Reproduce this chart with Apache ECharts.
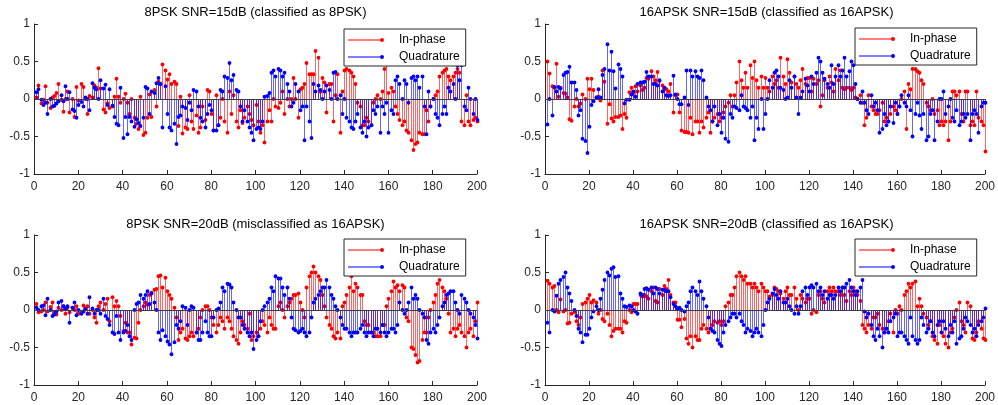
<!DOCTYPE html>
<html><head><meta charset="utf-8">
<script src="https://cdn.jsdelivr.net/npm/echarts@6/dist/echarts.min.js"></script>
<style>html,body{margin:0;padding:0;background:#fff}#c{width:998px;height:405px}</style>
</head><body><div id="c"></div>
<script>
const titles = [
  '8PSK SNR=15dB (classified as 8PSK)',
  '16APSK SNR=15dB (classified as 16APSK)',
  '8PSK SNR=20dB (misclassified as 16APSK)',
  '16APSK SNR=20dB (classified as 16APSK)'
];
const seriesNames = ['In-phase', 'Quadrature'];
const xTicks = {min: 0, max: 200, step: 20};
const yTicks = {min: -1, max: 1, step: 0.5};
const sampleIndex = Array.from({length: 200}, (_, k) => k + 1);

// 8PSK SNR=15dB
const tlI = [0.02,0.18,-0.06,-0.01,0.17,-0.05,-0.12,0.02,0.04,0.08,
 0.2,-0.01,-0.17,0.0,0.1,-0.18,0.0,-0.24,0.16,-0.02,
 0.2,0.16,0.0,-0.2,0.04,0.02,0.18,0.15,0.41,0.14,
 -0.14,-0.18,-0.06,-0.12,-0.1,0.03,0.27,0.03,-0.05,0.0,
 0.07,-0.05,-0.2,0.0,-0.25,-0.33,-0.4,0.03,-0.48,-0.45,
 -0.25,0.06,-0.24,0.12,-0.1,0.23,0.2,0.46,0.38,0.26,
 0.33,0.2,0.23,0.2,-0.36,0.03,-0.46,-0.38,-0.4,0.05,
 -0.3,-0.4,-0.22,-0.45,-0.38,-0.1,-0.28,0.12,0.1,-0.2,
 -0.42,0.05,-0.35,-0.25,0.0,-0.3,-0.45,0.1,-0.2,0.05,
 -0.3,-0.38,-0.15,-0.32,-0.25,-0.1,-0.2,-0.28,-0.35,-0.08,
 -0.3,-0.45,-0.35,-0.58,-0.3,-0.15,-0.3,0.0,-0.1,-0.12,
 -0.05,0.1,-0.2,0.0,-0.1,0.0,0.28,0.0,-0.25,0.13,
 0.15,0.2,0.48,0.33,0.33,0.33,0.64,0.55,0.1,0.28,
 0.22,-0.18,0.2,0.2,-0.3,0.05,0.33,-0.45,0.1,0.38,
 0.4,0.38,0.35,0.3,0.2,-0.05,-0.1,-0.35,-0.35,-0.25,
 -0.3,-0.35,-0.05,0.0,0.05,0.0,0.1,0.4,0.46,0.08,
 0.15,0.1,-0.1,-0.2,-0.28,-0.35,-0.3,-0.42,-0.45,-0.55,
 -0.68,-0.6,-0.58,-0.45,-0.47,-0.47,-0.15,-0.3,-0.1,0.0,
 0.05,0.1,0.3,0.35,0.38,0.4,0.3,0.25,0.3,0.35,
 0.4,0.35,-0.3,-0.35,0.05,-0.3,-0.35,-0.28,-0.25,-0.3];
const tlQ = [0.09,0.13,-0.01,-0.08,-0.05,-0.2,0.0,-0.1,-0.09,-0.06,
 -0.03,0.05,-0.03,0.17,0.0,0.09,-0.14,-0.16,-0.25,-0.08,
 -0.04,-0.1,0.02,0.0,-0.15,0.21,0.15,0.13,0.0,0.25,
 0.14,0.19,-0.08,0.13,-0.09,-0.24,-0.33,-0.35,0.15,-0.52,
 -0.24,-0.47,-0.24,-0.3,-0.37,-0.27,-0.32,-0.36,-0.25,0.16,
 0.14,-0.2,0.1,0.08,0.21,0.28,0.2,-0.38,0.17,-0.2,
 -0.38,-0.42,-0.33,-0.6,-0.24,-0.22,-0.1,-0.12,-0.28,-0.05,
 -0.15,0.12,0.1,-0.1,-0.25,-0.3,-0.38,-0.2,-0.08,-0.15,
 -0.42,-0.42,-0.35,0.12,0.1,0.3,0.28,0.48,0.25,0.32,
 0.12,0.1,-0.1,-0.3,-0.15,-0.3,-0.38,-0.45,-0.55,-0.4,
 -0.38,-0.4,-0.3,0.03,0.04,0.08,0.35,0.38,0.3,0.4,
 0.38,0.3,0.35,0.2,0.1,-0.1,-0.05,0.2,0.1,-0.15,
 -0.1,-0.55,-0.1,-0.3,-0.52,0.2,0.1,0.18,0.12,0.0,
 0.1,0.18,0.12,0.0,0.35,0.36,0.0,0.05,-0.2,0.0,
 -0.25,-0.3,-0.38,-0.4,-0.3,-0.2,-0.38,-0.45,-0.3,-0.5,
 -0.38,-0.35,-0.15,-0.2,-0.1,-0.45,-0.1,-0.2,-0.05,-0.45,
 -0.15,-0.2,0.25,0.3,0.2,0.0,0.25,0.2,-0.05,0.28,
 0.3,0.25,0.3,0.15,0.3,-0.1,-0.47,0.1,-0.1,0.0,
 -0.2,-0.25,-0.35,-0.2,-0.1,-0.2,0.15,0.1,0.2,0.0,
 0.45,0.25,0.45,-0.1,-0.15,0.15,0.0,-0.2,0.0,-0.28];

// 16APSK SNR=15dB
const trI = [0.5,0.34,0.17,0.15,0.47,0.03,0.15,0.08,0.07,0.02,
 -0.27,-0.29,-0.1,0.0,-0.1,-0.06,0.06,0.0,0.27,0.13,
 0.27,0.12,0.02,0.03,-0.02,0.38,0.23,-0.33,-0.07,-0.26,
 -0.3,-0.24,-0.24,-0.22,-0.4,-0.2,-0.25,0.09,0.15,0.08,
 0.17,0.1,0.18,0.12,0.15,0.28,0.27,0.37,0.3,0.25,
 0.36,0.24,0.18,0.13,0.13,0.1,0.2,-0.18,0.05,0.06,
 -0.18,-0.42,-0.44,-0.44,-0.45,-0.25,-0.47,-0.3,-0.3,-0.45,
 -0.3,-0.38,-0.25,-0.18,-0.45,-0.3,-0.25,-0.2,-0.3,-0.25,
 -0.18,-0.1,-0.05,0.05,-0.1,0.05,0.22,0.5,0.25,0.15,
 0.35,0.15,0.45,0.28,0.5,0.25,0.15,0.3,0.15,0.28,
 0.15,0.1,0.3,0.2,0.25,0.15,0.55,0.3,0.2,0.53,
 0.35,0.22,0.3,0.2,0.15,0.25,0.4,0.2,0.28,0.28,
 0.1,0.27,0.2,0.25,-0.1,0.05,0.25,0.15,0.3,0.22,
 0.1,0.4,0.25,0.38,0.15,0.13,0.15,0.15,0.12,0.15,
 0.02,0.0,0.05,-0.05,-0.35,-0.25,0.05,-0.1,-0.15,-0.2,
 -0.2,-0.15,-0.05,-0.3,-0.25,-0.3,-0.2,-0.1,-0.15,-0.2,
 -0.1,0.0,0.1,-0.4,0.2,0.13,0.4,0.4,0.37,0.35,
 0.25,0.2,-0.05,-0.1,-0.15,0.0,-0.2,-0.15,-0.35,-0.3,
 -0.35,-0.3,-0.55,-0.3,0.1,0.1,0.05,0.1,-0.2,-0.3,
 0.1,0.1,-0.35,-0.3,-0.35,0.1,-0.25,-0.3,-0.35,-0.7];
const trQ = [-0.34,0.0,-0.22,0.16,0.1,0.16,0.14,0.32,0.35,0.36,
 0.43,0.22,0.22,0.12,-0.22,-0.15,-0.53,-0.56,-0.72,-0.37,
 -0.08,-0.03,0.02,0.13,0.02,0.32,0.4,0.73,0.38,0.63,
 0.37,0.14,0.46,0.4,0.3,-0.06,-0.01,-0.01,0.06,0.1,
 0.03,0.2,0.22,0.22,0.23,0.36,0.3,0.3,0.2,0.2,
 0.18,0.25,0.1,0.15,0.05,0.04,0.05,0.31,0.06,0.0,
 -0.07,-0.07,0.02,0.38,-0.08,0.38,0.3,0.37,0.3,0.28,
 0.38,0.25,0.02,-0.1,-0.15,-0.3,-0.1,-0.35,-0.2,-0.45,
 -0.25,-0.53,-0.57,-0.2,-0.25,-0.1,-0.12,-0.15,0.05,-0.1,
 -0.12,-0.15,-0.25,-0.1,-0.55,-0.25,-0.4,0.0,-0.4,-0.2,
 0.0,0.25,0.15,0.35,0.38,0.3,0.15,0.12,0.0,0.02,
 0.25,0.15,0.3,0.02,-0.2,0.02,0.1,0.27,0.18,0.1,
 0.3,0.2,0.35,0.55,0.5,0.35,0.27,0.2,0.15,0.45,
 0.2,0.3,0.45,0.3,0.38,0.55,0.3,0.37,0.5,0.45,
 0.2,0.0,-0.05,0.1,-0.05,-0.15,-0.2,0.05,-0.1,-0.05,
 -0.15,-0.45,-0.4,-0.2,-0.35,-0.3,-0.1,-0.32,-0.05,-0.2,
 -0.1,0.05,-0.05,-0.1,0.05,-0.15,-0.5,-0.2,-0.05,-0.22,
 -0.4,-0.2,-0.55,-0.5,-0.2,-0.15,-0.55,-0.3,0.0,0.0,
 0.1,-0.2,-0.1,0.0,-0.25,-0.3,-0.15,-0.35,-0.3,-0.2,
 -0.25,-0.2,-0.55,-0.2,-0.15,-0.2,-0.45,-0.1,-0.05,-0.05];

// 8PSK SNR=20dB
const blI = [0.08,-0.03,-0.02,0.0,0.1,-0.02,0.04,0.1,-0.03,-0.06,
 0.03,0.0,0.05,-0.05,0.03,-0.03,0.03,0.0,0.05,-0.05,
 -0.03,0.06,0.02,0.05,-0.05,0.0,-0.1,-0.17,0.05,0.1,
 0.0,0.08,0.15,-0.15,0.17,0.05,0.12,0.05,-0.08,-0.28,
 -0.17,-0.3,-0.3,-0.46,-0.37,-0.38,-0.17,0.0,0.05,0.1,
 0.07,0.2,0.23,0.27,0.28,0.45,0.46,0.3,0.43,0.25,
 0.2,0.15,0.03,-0.1,-0.4,-0.3,-0.25,-0.38,-0.4,-0.35,
 -0.3,-0.35,-0.3,-0.25,-0.1,0.0,0.05,0.05,0.0,-0.1,
 -0.2,-0.3,-0.2,-0.1,-0.15,-0.25,-0.1,-0.15,-0.25,-0.35,
 -0.4,-0.45,-0.3,-0.15,-0.2,-0.25,-0.05,-0.4,-0.35,-0.3,
 -0.35,-0.25,-0.15,-0.2,-0.3,-0.1,-0.2,-0.25,-0.25,0.05,
 0.1,0.0,-0.1,0.05,0.1,0.15,0.2,0.2,0.22,0.1,
 0.0,-0.1,0.3,0.45,0.5,0.58,0.5,0.45,0.4,0.2,
 0.05,-0.1,-0.2,-0.25,-0.35,-0.38,-0.3,-0.38,0.05,0.1,
 0.2,0.3,0.45,0.25,0.35,0.3,0.2,0.2,-0.15,-0.2,
 -0.2,-0.3,-0.3,-0.35,-0.35,-0.35,-0.2,-0.2,0.05,0.15,
 0.25,0.38,0.3,0.33,0.25,0.33,0.3,-0.1,-0.15,-0.5,
 -0.52,-0.6,-0.7,-0.68,-0.4,-0.3,-0.3,-0.1,0.0,0.1,
 0.2,0.35,0.4,0.3,0.25,0.15,-0.05,-0.3,-0.25,-0.35,
 -0.25,-0.2,-0.3,-0.35,-0.5,-0.3,-0.25,-0.35,-0.15,0.1];
const blQ = [0.03,0.0,0.05,0.06,-0.07,0.15,0.0,-0.08,-0.06,-0.02,
 0.1,0.12,0.05,0.02,0.05,-0.17,0.03,0.1,-0.07,0.0,
 -0.05,-0.02,0.01,-0.05,0.17,0.02,-0.05,0.0,0.0,-0.05,
 0.15,-0.08,-0.12,-0.2,-0.3,-0.32,-0.08,-0.3,-0.4,-0.3,
 -0.28,-0.2,-0.35,-0.4,0.0,0.08,0.1,0.2,0.15,0.2,
 0.25,0.08,0.22,0.1,0.0,-0.3,-0.4,-0.27,-0.35,-0.42,
 -0.46,-0.59,-0.43,-0.2,-0.25,-0.15,0.05,0.03,-0.2,0.0,
 0.05,0.03,-0.3,-0.4,-0.4,-0.3,-0.15,-0.3,-0.35,-0.35,
 -0.1,0.0,0.02,0.1,0.3,0.25,0.35,0.34,0.3,0.1,
 0.0,-0.1,-0.1,-0.2,-0.25,-0.3,-0.35,-0.3,-0.52,-0.4,
 -0.35,-0.15,0.0,0.05,0.1,0.15,0.3,0.25,0.45,0.42,
 0.42,0.3,0.2,0.3,0.15,-0.1,-0.25,-0.27,-0.3,-0.28,
 -0.25,-0.3,-0.35,-0.3,-0.1,0.1,0.15,0.2,0.25,0.3,
 0.3,0.4,0.3,0.2,0.15,0.05,0.0,-0.1,-0.2,-0.25,
 -0.25,-0.3,-0.35,-0.3,-0.3,-0.3,-0.25,-0.2,-0.3,-0.35,
 -0.3,-0.3,-0.35,-0.25,-0.25,-0.3,-0.2,-0.3,-0.35,-0.3,
 -0.25,-0.25,-0.3,-0.2,0.1,0.0,-0.05,0.0,0.1,0.3,
 0.15,0.2,0.15,0.0,-0.05,-0.1,-0.4,-0.45,-0.3,-0.25,
 -0.3,-0.2,-0.1,0.05,0.1,0.2,0.22,0.25,0.25,0.1,
 0.0,-0.05,0.2,0.15,0.1,0.0,-0.05,-0.1,-0.2,-0.38];

// 16APSK SNR=20dB
const brI = [0.39,0.35,0.3,0.32,0.0,-0.03,0.14,-0.02,0.0,-0.18,
 -0.17,-0.05,-0.03,-0.15,-0.2,-0.1,0.08,0.1,0.15,0.2,
 0.1,0.13,0.1,-0.05,0.0,-0.12,-0.15,-0.05,-0.2,-0.35,
 -0.28,-0.25,-0.25,-0.25,-0.3,-0.15,-0.17,0.0,-0.03,0.08,
 0.08,0.08,0.2,0.18,0.2,0.18,0.15,0.25,0.3,0.12,
 0.1,0.28,0.2,0.32,0.28,0.4,0.2,0.1,0.1,-0.13,
 -0.13,-0.23,-0.12,-0.38,-0.45,-0.35,-0.5,-0.35,-0.4,-0.4,
 -0.25,-0.2,-0.25,-0.3,-0.25,-0.2,-0.15,-0.17,-0.15,-0.2,
 -0.15,0.05,0.1,0.2,0.2,0.3,0.45,0.5,0.45,0.4,
 0.45,0.35,0.35,0.3,0.35,0.3,0.25,0.35,0.3,0.25,
 0.25,0.18,0.2,0.3,0.28,0.25,0.22,0.15,0.25,0.3,
 0.2,0.2,0.3,0.15,0.0,0.2,0.15,0.1,0.15,0.15,
 -0.05,0.0,-0.03,0.2,0.25,0.15,0.1,0.25,0.3,0.25,
 0.3,0.25,0.25,0.2,0.3,0.2,0.12,0.25,0.2,0.3,
 0.25,0.2,0.12,-0.2,-0.25,-0.3,-0.2,-0.25,-0.1,-0.1,
 -0.05,-0.2,-0.25,-0.3,-0.25,-0.15,-0.05,-0.3,0.0,-0.05,
 0.05,0.0,0.2,0.25,0.35,0.3,0.35,0.38,0.05,0.15,
 0.05,-0.05,-0.1,-0.2,-0.15,-0.35,-0.4,-0.45,-0.2,-0.3,
 -0.35,-0.45,-0.5,-0.3,-0.25,-0.1,0.0,0.1,-0.15,-0.2,
 -0.3,0.1,0.05,-0.38,-0.4,-0.3,-0.15,-0.25,-0.38,-0.4];
const brQ = [-0.17,-0.3,0.0,-0.02,0.19,0.35,0.4,0.44,0.5,0.3,
 0.22,0.12,0.0,-0.08,-0.25,-0.3,-0.43,-0.33,-0.33,-0.25,
 -0.1,-0.02,0.05,0.0,0.15,0.27,0.4,0.5,0.46,0.55,
 0.57,0.44,0.45,0.22,0.15,0.05,0.04,0.06,0.05,0.0,
 -0.02,-0.05,0.22,0.2,0.28,0.29,0.27,0.3,0.22,0.3,
 0.28,0.22,0.27,0.27,0.25,0.25,0.17,0.08,0.05,0.02,
 0.03,0.0,-0.02,0.05,0.1,0.25,0.3,0.25,0.2,0.38,
 0.25,0.15,0.05,-0.1,-0.25,-0.28,-0.3,-0.4,-0.45,-0.48,
 -0.3,-0.2,-0.15,-0.1,-0.05,-0.05,-0.1,-0.05,-0.15,-0.2,
 -0.3,-0.25,-0.28,-0.35,-0.3,-0.25,-0.3,-0.35,-0.2,0.0,
 0.1,0.15,0.22,0.28,0.2,0.15,0.25,0.1,0.1,0.15,
 0.05,0.0,-0.05,0.05,-0.05,0.05,0.25,0.3,0.2,0.3,
 0.33,0.3,0.35,0.25,0.3,0.2,0.25,0.15,0.2,0.2,
 0.15,0.2,0.3,0.25,0.3,0.3,0.35,0.4,0.3,0.25,
 0.2,0.25,0.3,0.4,-0.02,-0.1,-0.05,-0.2,-0.35,-0.4,
 -0.25,-0.35,-0.5,-0.3,-0.25,-0.3,-0.15,-0.1,-0.05,-0.35,
 -0.3,-0.3,-0.35,-0.4,-0.45,-0.1,-0.35,-0.4,-0.45,-0.4,
 -0.1,-0.2,-0.3,-0.25,-0.15,-0.3,-0.35,-0.2,-0.15,-0.3,
 -0.15,-0.25,-0.35,-0.2,-0.3,-0.15,-0.45,-0.38,-0.35,-0.25,
 -0.1,-0.15,-0.2,-0.3,-0.25,-0.35,-0.2,-0.15,-0.1,0.02];

const FONT = '"Liberation Sans", Arial, Helvetica, sans-serif';
const AX = '#262626';
const RED = '#ff0000', BLUE = '#0000ff';

const panels = [
  {title: titles[0], I: tlI, Q: tlQ, grid: {left: 34, top: 24, width: 443, height: 150}, tx: 255.5, ty: 6, lg: {left: 344, top: 29}},
  {title: titles[1], I: trI, Q: trQ, grid: {left: 545, top: 24, width: 443, height: 150}, tx: 766.5, ty: 6, lg: {left: 855, top: 28}},
  {title: titles[2], I: blI, Q: blQ, grid: {left: 34, top: 235, width: 443, height: 150}, tx: 255.5, ty: 218, lg: {left: 344, top: 239}},
  {title: titles[3], I: brI, Q: brQ, grid: {left: 545, top: 235, width: 443, height: 150}, tx: 766.5, ty: 218, lg: {left: 855, top: 239}}
];

function stem(params, api) {
  const x = api.value(0), y = api.value(1);
  const p0 = api.coord([x, 0]);
  const p1 = api.coord([x, y]);
  const color = api.visual('color');
  const sx = Math.round(p0[0]) + 0.5;
  return {
    type: 'group',
    children: [
      {type: 'line', shape: {x1: sx, y1: p0[1], x2: sx, y2: p1[1]}, style: {stroke: color, lineWidth: 1, opacity: 0.6}},
      {type: 'circle', shape: {cx: sx, cy: p1[1], r: 1.9}, style: {fill: color}}
    ]
  };
}

const series = [];
panels.forEach((p, k) => {
  series.push({
    type: 'custom', name: seriesNames[0], xAxisIndex: k, yAxisIndex: k,
    renderItem: stem, itemStyle: {color: RED}, encode: {x: 0, y: 1},
    data: p.I.map((v, j) => [sampleIndex[j], v]), z: 2
  });
  series.push({
    type: 'custom', name: seriesNames[1], xAxisIndex: k, yAxisIndex: k,
    renderItem: stem, itemStyle: {color: BLUE}, encode: {x: 0, y: 1},
    data: p.Q.map((v, j) => [sampleIndex[j], v]), z: 3,
    markLine: {silent: true, symbol: ['none', 'none'], label: {show: false}, animation: false,
      lineStyle: {color: '#3a3a4a', width: 1, type: 'solid'}, emphasis: {disabled: true},
      data: [{yAxis: 0}]}
  });
});

const option = {
  animation: false,
  backgroundColor: '#fff',
  title: panels.map(p => ({
    text: p.title, left: p.tx, top: p.ty, textAlign: 'center', padding: 0,
    textStyle: {fontSize: 13, fontWeight: 'normal', color: '#000', fontFamily: FONT}
  })),
  grid: panels.map(p => p.grid),
  xAxis: panels.map((p, k) => ({
    type: 'value', gridIndex: k, min: xTicks.min, max: xTicks.max, interval: xTicks.step,
    axisLine: {show: true, onZero: false, lineStyle: {color: AX, width: 1}},
    axisTick: {show: true, inside: true, length: 4, lineStyle: {color: AX}},
    axisLabel: {color: AX, fontSize: 12, margin: 7, fontFamily: FONT},
    splitLine: {show: false}
  })),
  yAxis: panels.map((p, k) => ({
    type: 'value', gridIndex: k, min: yTicks.min, max: yTicks.max, interval: yTicks.step,
    axisLine: {show: true, onZero: false, lineStyle: {color: AX, width: 1}},
    axisTick: {show: true, inside: true, length: 4, lineStyle: {color: AX}},
    axisLabel: {color: AX, fontSize: 12, margin: 4, fontFamily: FONT},
    splitLine: {show: false}
  })),
  legend: panels.map(p => ({
    data: seriesNames, orient: 'vertical', left: p.lg.left, top: p.lg.top,
    padding: [4, 6, 2, 4], itemGap: 3, itemWidth: 36, itemHeight: 4,
    icon: 'path://M0,1.5L33,1.5L33,2.5L0,2.5Z M32,2A2,2 0 1 1 36,2A2,2 0 1 1 32,2Z',
    backgroundColor: '#fff', borderColor: AX, borderWidth: 1, borderRadius: 0,
    selectedMode: false, z: 10,
    textStyle: {fontSize: 12, color: '#000', fontFamily: FONT, lineHeight: 14, padding: [0, 0, 0, 10]}
  })),
  series: series
};

const chart = echarts.init(document.getElementById('c'), null, {renderer: 'canvas'});
chart.setOption(option);
</script></body></html>
